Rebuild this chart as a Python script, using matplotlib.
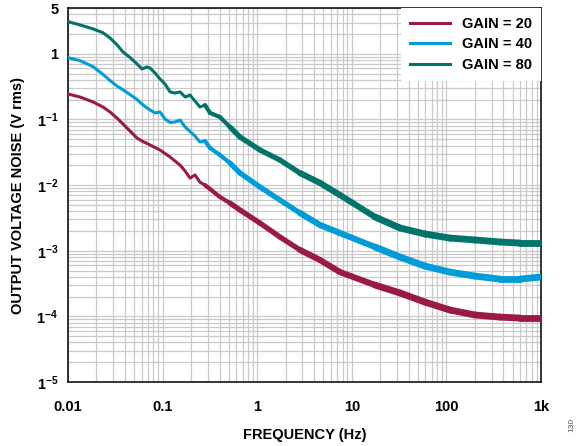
import matplotlib
matplotlib.use("Agg")
import matplotlib.pyplot as plt
from matplotlib.ticker import LogLocator, NullFormatter
import numpy as np

plt.rcParams['font.family'] = ['Liberation Sans', 'DejaVu Sans']
plt.rcParams['font.weight'] = 'bold'
plt.rcParams['mathtext.fontset'] = 'custom'
plt.rcParams['mathtext.rm'] = 'Liberation Sans:bold'
plt.rcParams['mathtext.it'] = 'Liberation Sans:bold'
plt.rcParams['mathtext.bf'] = 'Liberation Sans:bold'

# ---- data ----
freq = [0.0100, 0.0134, 0.0184, 0.0234, 0.0278, 0.0330, 0.0381, 0.0452, 0.0536, 0.0605,
        0.0684, 0.0736, 0.0832, 0.0939, 0.106, 0.120, 0.135, 0.153, 0.173, 0.195,
        0.220, 0.248, 0.281, 0.317, 0.404, 0.515, 0.658, 1.07, 1.74, 2.83,
        4.61, 7.50, 17.6, 32.4, 59.4, 109, 200, 369, 600, 977]

gain20 = [0.245, 0.220, 0.185, 0.155, 0.130, 0.105, 0.0854, 0.0668, 0.0522, 0.0470,
          0.0431, 0.0409, 0.0374, 0.0343, 0.0303, 0.0268, 0.0233, 0.0202, 0.0164, 0.0128,
          0.0143, 0.0111, 0.0100, 0.00872, 0.00659, 0.00533, 0.00417, 0.00264, 0.00162, 0.00103,
          0.000722, 0.000473, 0.000300, 0.000227, 0.000165, 0.000125, 0.000105, 0.0000975, 0.0000942, 0.0000942]

gain40 = [0.875, 0.788, 0.638, 0.487, 0.393, 0.324, 0.284, 0.240, 0.202, 0.172,
          0.150, 0.140, 0.126, 0.130, 0.102, 0.0900, 0.0916, 0.0983, 0.0768, 0.0656,
          0.0560, 0.0454, 0.0470, 0.0368, 0.0288, 0.0217, 0.0153, 0.00935, 0.00593, 0.00376,
          0.00247, 0.00186, 0.00114, 0.00080, 0.000584, 0.000473, 0.000411, 0.000370, 0.000370, 0.000397]

gain80 = [3.10, 2.76, 2.40, 2.10, 1.75, 1.37, 1.07, 0.881, 0.702, 0.589,
          0.631, 0.610, 0.511, 0.414, 0.348, 0.263, 0.253, 0.263, 0.220, 0.236,
          0.191, 0.155, 0.166, 0.126, 0.109, 0.0768, 0.0541, 0.0343, 0.0241, 0.0153,
          0.0108, 0.00706, 0.00327, 0.00222, 0.00180, 0.00156, 0.00146, 0.00136, 0.00131, 0.00131]

series_labels = ['GAIN = 20', 'GAIN = 40', 'GAIN = 80']
series_colors = ['#9b1a42', '#009cd8', '#00746a']

xticks = [0.01, 0.1, 1, 10, 100, 1000]
xticklabels = ['0.01', '0.1', '1', '10', '100', '1k']
yticks = [5, 1, 1e-1, 1e-2, 1e-3, 1e-4, 1e-5]
yticklabels = ['5', '1', '1$^{-1}$', '1$^{-2}$', '1$^{-3}$', '1$^{-4}$', '1$^{-5}$']

# ---- figure ----
fig = plt.figure(figsize=(5.8, 4.46), dpi=100)
ax = fig.add_axes([68/580, 1-382/446, (541-68)/580, (382-8)/446])
ax.set_xscale('log')
ax.set_yscale('log')
ax.set_xlim(0.01, 1000)
ax.set_ylim(1e-5, 5)

grid_c = '#c9c9c9'
ax.xaxis.set_minor_locator(LogLocator(base=10, subs=np.arange(2, 10)))
ax.yaxis.set_minor_locator(LogLocator(base=10, subs=np.arange(2, 10), numticks=20))
ax.xaxis.set_minor_formatter(NullFormatter())
ax.yaxis.set_minor_formatter(NullFormatter())
ax.grid(True, which='both', color=grid_c, lw=0.9)
ax.set_axisbelow(True)


def seg_width(fr):
    if fr < 0.25:
        return 2.2
    if fr < 0.5:
        return 3.0
    if fr < 2:
        return 3.8
    if fr < 10:
        return 4.4
    return 4.9


for vals, lab, col in zip([gain20, gain40, gain80], series_labels, series_colors):
    f = np.array(freq)
    v = np.array(vals)
    lo = f < 0.25
    idx_lo = np.where(lo)[0]
    # smooth low-frequency part as one continuous line
    ax.plot(f[:idx_lo[-1] + 2], v[:idx_lo[-1] + 2], color=col, lw=2.2,
            solid_joinstyle='round', solid_capstyle='round', zorder=3)
    # noisy high-frequency part: progressively thicker band
    for i in range(idx_lo[-1] + 1, len(f) - 1):
        ax.plot(f[i:i+2], v[i:i+2], color=col, lw=seg_width(f[i]),
                solid_capstyle='round', zorder=3)
    ax.plot([], [], color=col, lw=2.2, label=lab)

ax.set_xticks(xticks)
ax.set_xticklabels(xticklabels)
ax.set_yticks(yticks)
ax.set_yticklabels(yticklabels)
ax.tick_params(which='both', length=0, labelsize=10.5)
ax.tick_params(axis='x', pad=13)
ax.tick_params(axis='y', pad=7)
for t in ax.get_xticklabels() + ax.get_yticklabels():
    t.set_fontweight('bold')

for s in ax.spines.values():
    s.set_linewidth(1.1)
    s.set_color('black')

ax.set_xlabel('FREQUENCY (Hz)', fontsize=10.5, fontweight='bold', labelpad=10)
ax.set_ylabel('OUTPUT VOLTAGE NOISE (V rms)', fontsize=10.5, fontweight='bold', labelpad=8)

leg = ax.legend(loc='upper right', borderaxespad=0.0, frameon=True, fancybox=False,
                edgecolor='none', facecolor='white', framealpha=1.0,
                prop={'size': 10.5, 'weight': 'bold'}, handlelength=2.8,
                handletextpad=0.8, labelspacing=0.45, borderpad=0.6)
for h in leg.get_lines():
    h.set_linewidth(2.2)

fig.text(572/580, 1-425/446, '130', rotation=90, fontsize=6, color='#555555',
         ha='center', va='center', fontweight='normal')

fig.savefig('out.png', dpi=100)
